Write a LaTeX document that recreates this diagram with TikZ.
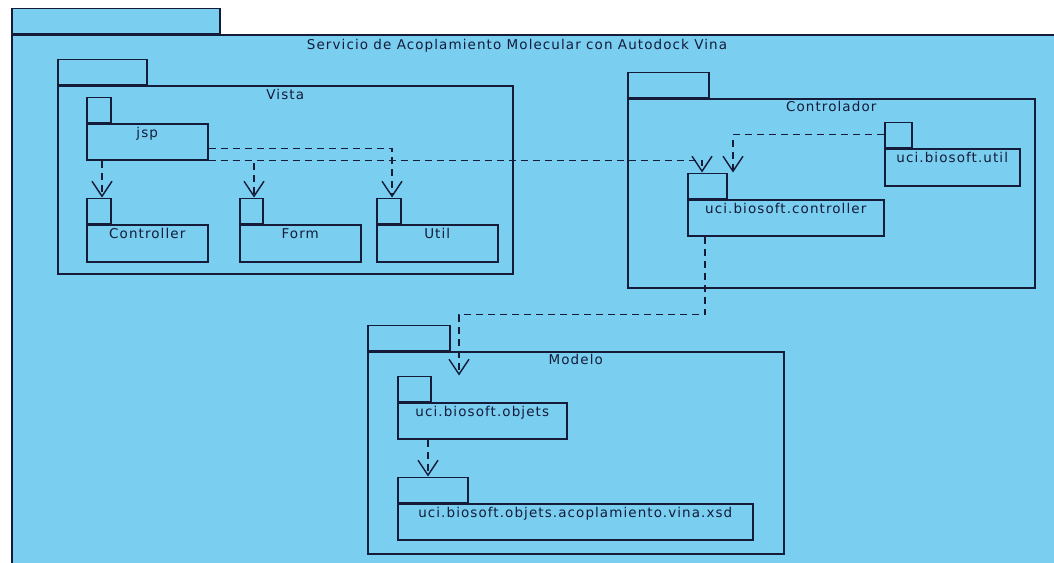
\documentclass[tikz,border=0pt]{standalone}
\usepackage{fontspec}
\usetikzlibrary{arrows.meta}
\newfontfamily\umlfont[LetterSpace=8]{DejaVu Sans}
\definecolor{pkgblue}{RGB}{122,206,240}
\definecolor{pkgline}{RGB}{20,28,58}

\begin{document}
\begin{tikzpicture}[x=1pt, y=-1pt,
    pkg/.style={rectangle, draw=pkgline, fill=pkgblue, line width=1.5pt, inner sep=0pt, anchor=north west},
    pkgtab/.style={rectangle, draw=pkgline, fill=pkgblue, line width=1.5pt, inner sep=0pt, minimum height=25pt, anchor=south west},
    pkgname/.style={anchor=base, inner sep=0pt, text=pkgline, font=\umlfont\fontsize{13.5}{16}\selectfont},
    dep/.style={-{Straight Barb[length=15pt, width=20pt]}, draw=pkgline, line width=1.4pt, dash pattern=on 7pt off 5pt}]

    \useasboundingbox (0,0) rectangle (1054,562);
    \clip (0,0) rectangle (1054,562);

    % paquete principal
    \node[pkg, minimum width=1100pt, minimum height=600pt] (servicio) at (11,34) {};
    \node[pkgtab, minimum width=208pt] (serviciotab) at (servicio.north west) {};
    \node[pkgname] (serviciolbl) at (517,49) {Servicio de Acoplamiento Molecular con Autodock Vina};

    % Vista
    \node[pkg, minimum width=455pt, minimum height=188pt] (vista) at (57,85) {};
    \node[pkgtab, minimum width=89pt] (vistatab) at (vista.north west) {};
    \node[pkgname] at ([yshift=-14pt]vista.north) {Vista};

    \node[pkg, minimum width=121pt, minimum height=36pt] (jsp) at (86,123) {};
    \node[pkgtab, minimum width=24pt] (jsptab) at (jsp.north west) {};
    \node[pkgname] at ([yshift=-14pt]jsp.north) {jsp};

    \node[pkg, minimum width=121pt, minimum height=37pt] (vcontroller) at (86,224) {};
    \node[pkgtab, minimum width=24pt] (vcontrollertab) at (vcontroller.north west) {};
    \node[pkgname] at ([yshift=-14pt]vcontroller.north) {Controller};

    \node[pkg, minimum width=121pt, minimum height=37pt] (form) at (239,224) {};
    \node[pkgtab, minimum width=23pt] (formtab) at (form.north west) {};
    \node[pkgname] at ([yshift=-14pt]form.north) {Form};

    \node[pkg, minimum width=121pt, minimum height=37pt] (vutil) at (376,224) {};
    \node[pkgtab, minimum width=24pt] (vutiltab) at (vutil.north west) {};
    \node[pkgname] at ([yshift=-14pt]vutil.north) {Util};

    % Controlador
    \node[pkg, minimum width=407pt, minimum height=189pt] (controlador) at (627,98) {};
    \node[pkgtab, minimum width=81pt] (controladortab) at (controlador.north west) {};
    \node[pkgname] at ([yshift=-13pt]controlador.north) {Controlador};

    \node[pkg, minimum width=135pt, minimum height=37pt] (bioutil) at (884,148) {};
    \node[pkgtab, minimum width=27pt] (bioutiltab) at (bioutil.north west) {};
    \node[pkgname] at ([yshift=-14pt]bioutil.north) {uci.biosoft.util};

    \node[pkg, minimum width=196pt, minimum height=36pt] (biocontroller) at (687,199) {};
    \node[pkgtab, minimum width=39pt] (biocontrollertab) at (biocontroller.north west) {};
    \node[pkgname] at ([yshift=-14pt]biocontroller.north) {uci.biosoft.controller};

    % Modelo
    \node[pkg, minimum width=416pt, minimum height=202pt] (modelo) at (367,351) {};
    \node[pkgtab, minimum width=82pt] (modelotab) at (modelo.north west) {};
    \node[pkgname] at ([yshift=-13pt]modelo.north) {Modelo};

    \node[pkg, minimum width=169pt, minimum height=36pt] (objets) at (397,402) {};
    \node[pkgtab, minimum width=33pt] (objetstab) at (objets.north west) {};
    \node[pkgname] at ([yshift=-14pt]objets.north) {uci.biosoft.objets};

    \node[pkg, minimum width=355pt, minimum height=36pt] (xsd) at (397,503) {};
    \node[pkgtab, minimum width=70pt] (xsdtab) at (xsd.north west) {};
    \node[pkgname] at ([yshift=-14pt]xsd.north) {uci.biosoft.objets.acoplamiento.vina.xsd};

    % dependencias
    \draw[dep] (jsp.south west) ++(16,0) -- ([xshift=16pt]vcontrollertab.north west);
    \draw[dep] (jsp.south east) -| ([xshift=15pt]formtab.north west);
    \draw[dep] ([yshift=-7pt]jsp.east) -| ([xshift=16pt]vutiltab.north west);
    \draw[dep] (jsp.south east) -| ([xshift=15pt]biocontrollertab.north west);
    \draw[dep] (bioutiltab.west) -| ([xshift=46pt]biocontrollertab.north west);
    \draw[dep] (biocontroller.south west) ++(18,0) -- ++(0,78) -| ([xshift=62pt]objetstab.north west);
    \draw[dep] (objets.south west) ++(31,0) -- ([xshift=31pt]xsdtab.north west);
\end{tikzpicture}
\end{document}
